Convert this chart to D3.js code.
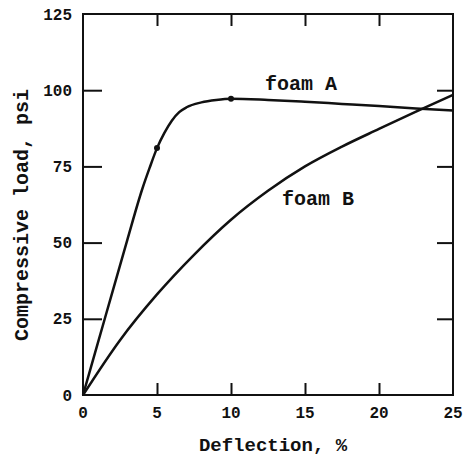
<!DOCTYPE html>
<html>
<head>
<meta charset="utf-8">
<script src="https://cdn.jsdelivr.net/npm/d3@7"></script>
<style>
  body { margin: 0; background: #fff; }
  text { font-family: "Liberation Mono", "DejaVu Sans Mono", monospace; font-weight: bold; fill: #111; }
</style>
</head>
<body>
<div id="chart"></div>
<script>
// data (deflection %, load psi)
const foamA = [[0,0],[1,17],[2,34],[3,51],[4,67.5],[4.5,74.5],[5,81],[5.5,86],[6,90],[6.5,92.8],[7,94.4],[8,96],[9,96.8],[10,97.2],[12.5,96.8],[15,96.2],[17.5,95.5],[20,94.8],[22.5,94],[25,93.3]];
const foamB = [[0,0],[2.5,18],[5,33],[7.5,46],[10,57.5],[12.5,67],[15,75],[17.5,81.5],[20,87.3],[22.5,93],[25,98.5]];
const foamAMarks = [[5,81],[10,97.2]];
const xTicks = [0, 5, 10, 15, 20, 25];
const yTicks = [0, 25, 50, 75, 100, 125];
const seriesLabels = [
  { text: "foam A", x: 12.3, y: 100 },
  { text: "foam B", x: 13.45, y: 62.3 }
];

const W = 465, H = 456;
const margin = { top: 14, right: 12, bottom: 61, left: 83 };
const width = W - margin.left - margin.right;
const height = H - margin.top - margin.bottom;

const svg = d3.select("#chart").append("svg")
  .attr("width", W)
  .attr("height", H);

const g = svg.append("g")
  .attr("transform", "translate(" + margin.left + "," + margin.top + ")");

const x = d3.scaleLinear().domain([0, 25]).range([0, width]);
const y = d3.scaleLinear().domain([0, 125]).range([height, 0]);

// frame
g.append("rect")
  .attr("width", width)
  .attr("height", height)
  .attr("fill", "none")
  .attr("stroke", "#111")
  .attr("stroke-width", 2);

// inner ticks on all four sides
const innerX = xTicks.slice(1, -1);
const innerY = yTicks.slice(1, -1);

g.append("g")
  .attr("transform", "translate(0," + height + ")")
  .call(d3.axisBottom(x).tickValues(innerX).tickSize(-12).tickFormat(""))
  .call(a => a.select(".domain").remove());
g.append("g")
  .call(d3.axisTop(x).tickValues(innerX).tickSize(-12).tickFormat(""))
  .call(a => a.select(".domain").remove());
g.append("g")
  .call(d3.axisLeft(y).tickValues(innerY).tickSize(-19).tickFormat(""))
  .call(a => a.select(".domain").remove());
g.append("g")
  .attr("transform", "translate(" + width + ",0)")
  .call(d3.axisRight(y).tickValues(innerY).tickSize(-16).tickFormat(""))
  .call(a => a.select(".domain").remove());
g.selectAll(".tick line").attr("stroke", "#111").attr("stroke-width", 2);

// tick labels
g.selectAll("text.xl")
  .data(xTicks)
  .enter()
  .append("text")
  .attr("class", "xl")
  .attr("x", d => x(d))
  .attr("y", height + 23)
  .attr("text-anchor", "middle")
  .attr("font-size", 16)
  .text(d => d);

g.selectAll("text.yl")
  .data(yTicks)
  .enter()
  .append("text")
  .attr("class", "yl")
  .attr("x", -11)
  .attr("y", d => y(d))
  .attr("dy", "0.35em")
  .attr("text-anchor", "end")
  .attr("font-size", 16)
  .text(d => d);

// curves
const line = d3.line()
  .x(d => x(d[0]))
  .y(d => y(d[1]))
  .curve(d3.curveMonotoneX);

[foamA, foamB].forEach(s => {
  g.append("path")
    .datum(s)
    .attr("d", line)
    .attr("fill", "none")
    .attr("stroke", "#111")
    .attr("stroke-width", 2.5);
});

g.selectAll("circle.mark")
  .data(foamAMarks)
  .enter()
  .append("circle")
  .attr("class", "mark")
  .attr("cx", d => x(d[0]))
  .attr("cy", d => y(d[1]))
  .attr("r", 3)
  .attr("fill", "#111");

g.selectAll("text.series")
  .data(seriesLabels)
  .enter()
  .append("text")
  .attr("class", "series")
  .attr("x", d => x(d.x))
  .attr("y", d => y(d.y))
  .attr("font-size", 20)
  .text(d => d.text);

// axis titles
svg.append("text")
  .attr("x", 273)
  .attr("y", 451)
  .attr("text-anchor", "middle")
  .attr("font-size", 19)
  .text("Deflection, %");

svg.append("text")
  .attr("transform", "translate(28,215) rotate(-90)")
  .attr("text-anchor", "middle")
  .attr("font-size", 20)
  .text("Compressive load, psi");
</script>
</body>
</html>
